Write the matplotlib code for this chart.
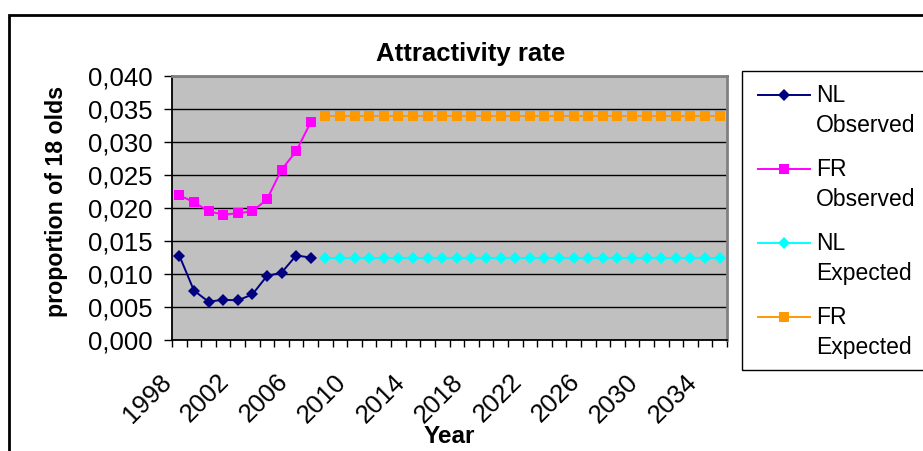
import numpy as np
import matplotlib
matplotlib.use("Agg")
import matplotlib.pyplot as plt
from matplotlib.lines import Line2D
from matplotlib.patches import Rectangle
from matplotlib.transforms import ScaledTranslation

plt.rcParams['font.family'] = ['Liberation Sans', 'DejaVu Sans']

# observed period and projection period
obs_years = [1998, 1999, 2000, 2001, 2002, 2003, 2004, 2005, 2006, 2007]
exp_years = [2008, 2009, 2010, 2011, 2012, 2013, 2014, 2015, 2016, 2017,
             2018, 2019, 2020, 2021, 2022, 2023, 2024, 2025, 2026, 2027,
             2028, 2029, 2030, 2031, 2032, 2033, 2034, 2035]

nl_observed = [0.0128, 0.0075, 0.0058, 0.0061, 0.0060, 0.0069, 0.0097, 0.0102, 0.0128, 0.0125]
fr_observed = [0.0219, 0.0209, 0.0195, 0.0190, 0.0192, 0.0195, 0.0213, 0.0258, 0.0286, 0.0330]
nl_expected = [0.0124, 0.0124, 0.0124, 0.0124, 0.0124, 0.0124, 0.0124, 0.0124, 0.0124, 0.0124,
               0.0124, 0.0124, 0.0124, 0.0124, 0.0124, 0.0124, 0.0124, 0.0124, 0.0124, 0.0124,
               0.0124, 0.0124, 0.0124, 0.0124, 0.0124, 0.0124, 0.0124, 0.0124]
fr_expected = [0.0340, 0.0340, 0.0340, 0.0340, 0.0340, 0.0340, 0.0340, 0.0340, 0.0340, 0.0340,
               0.0340, 0.0340, 0.0340, 0.0340, 0.0340, 0.0340, 0.0340, 0.0340, 0.0340, 0.0340,
               0.0340, 0.0340, 0.0340, 0.0340, 0.0340, 0.0340, 0.0340, 0.0340]

year_labels = [1998, 2002, 2006, 2010, 2014, 2018, 2022, 2026, 2030, 2034]
y_ticks = [0.0, 0.005, 0.010, 0.015, 0.020, 0.025, 0.030, 0.035, 0.040]

# (country, status, x, y, colour, marker, marker size)
series = [
    ("NL", "Observed", obs_years, nl_observed, "#000080", "D", 6.4),
    ("FR", "Observed", obs_years, fr_observed, "#FF00FF", "s", 7.5),
    ("NL", "Expected", exp_years, nl_expected, "#00FFFF", "D", 6.4),
    ("FR", "Expected", exp_years, fr_expected, "#FF9900", "s", 7.5),
]

W, H = 923, 451
fig = plt.figure(figsize=(W / 100, H / 100), dpi=100)
fig.patch.set_facecolor("white")

# helpers for pixel -> figure fraction
def fx(px):
    return px / W

def fy(py):
    return 1 - py / H

ax = fig.add_axes([fx(172), fy(340), fx(727) - fx(172), fy(76) - fy(340)])
ax.set_facecolor("#C0C0C0")

for name, status, xs, ys, color, marker, ms in series:
    ax.plot(xs, ys, color=color, lw=1.4, marker=marker, ms=ms, mew=0, zorder=3)

ax.set_xlim(1997.5, 2035.5)
ax.set_ylim(0, 0.04)

# value axis with comma decimals and black gridlines
ax.set_yticks(y_ticks)
ax.set_yticklabels([f"{v:.3f}".replace(".", ",") for v in y_ticks], fontsize=18.5)
ax.yaxis.grid(True, color="black", lw=1.0)
ax.set_axisbelow(True)
ax.tick_params(axis="y", direction="out", length=6, width=1, pad=8, color="black")

# category axis: ticks between years, labels drawn separately
ax.set_xticks(np.arange(1997.5, 2036, 1))
ax.set_xticklabels([])
ax.tick_params(axis="x", direction="out", length=5, width=1, color="black")

label_trans = ax.get_xaxis_transform() + ScaledTranslation(-0.12, -0.38, fig.dpi_scale_trans)
for yr in year_labels:
    ax.text(yr, 0, str(yr), transform=label_trans, rotation=45, rotation_mode="anchor",
            ha="right", va="center", fontsize=18.5)

for side in ["top", "right"]:
    ax.spines[side].set_color("#808080")
    ax.spines[side].set_linewidth(2)
for side in ["left", "bottom"]:
    ax.spines[side].set_color("black")
    ax.spines[side].set_linewidth(1.3)

# titles
fig.text(fx(471), fy(61), "Attractivity rate", ha="center", va="baseline",
         fontsize=18.5, fontweight="bold")
fig.text(fx(57), fy(201), "proportion of 18 olds", ha="center", va="center",
         rotation=90, fontsize=16.7, fontweight="bold")
fig.text(fx(449), fy(443), "Year", ha="center", va="baseline",
         fontsize=17.5, fontweight="bold")

# chart border and legend box
fig.add_artist(Rectangle((fx(9), -0.1), 1.2, fy(15) + 0.1, transform=fig.transFigure,
                         fill=False, ec="black", lw=2))
fig.add_artist(Rectangle((fx(742), fy(370)), 0.5, fy(71) - fy(370), transform=fig.transFigure,
                         fill=False, ec="black", lw=1))

for i, (name, status, xs, ys, color, marker, ms) in enumerate(series):
    y = 95 + i * 74
    fig.add_artist(Line2D([fx(758), fx(784), fx(810)], [fy(y)] * 3, transform=fig.transFigure,
                          color=color, lw=1.4, marker=marker, ms=ms - 0.6, mew=0, markevery=[1]))
    fig.text(fx(816), fy(y + 7), name, ha="left", va="baseline", fontsize=16.5)
    fig.text(fx(816), fy(y + 37), status, ha="left", va="baseline", fontsize=16.5)

fig.savefig("out.png", dpi=100)
